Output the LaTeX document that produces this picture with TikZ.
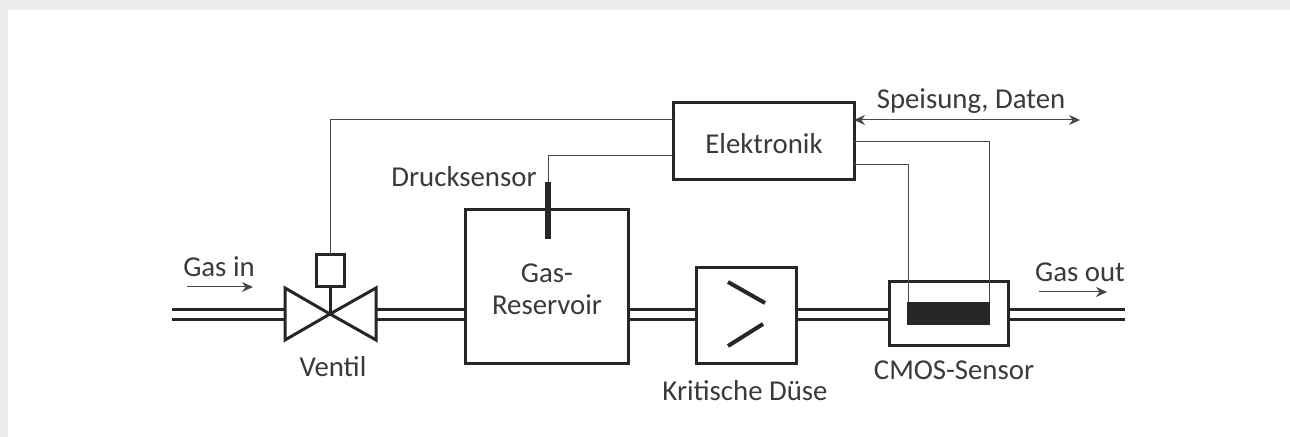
\documentclass[tikz,border=0pt]{standalone}
\usepackage{fontspec}
\setmainfont{Carlito}
\usetikzlibrary{positioning, arrows.meta, calc}
\definecolor{frame}{HTML}{EBEBED}
\definecolor{ink}{HTML}{262626}
\definecolor{label}{HTML}{3A3A3A}
\begin{document}
\begin{tikzpicture}[
      x=0.5pt, y=-0.5pt,
      box/.style={rectangle, draw=ink, fill=white, line width=1.5pt, inner sep=0pt, outer sep=0pt},
      sensorbar/.style={rectangle, fill=ink, inner sep=0pt, outer sep=0pt},
      txt/.style={font=\fontsize{14.4}{17}\selectfont, text=label, align=center, inner sep=0pt},
      pipe/.style={draw=ink, line width=1.5pt},
      wire/.style={draw=ink!85, line width=0.5pt},
      flow/.style={-{Stealth[length=5.5pt, width=5pt]}, draw=ink!85, line width=0.5pt}]

    % page
    \fill[frame] (0,0) rectangle (1290,437);
    \fill[white] (8,10) rectangle (1290,437);
    \useasboundingbox (0,0) rectangle (1290,437);

    % main line
    \coordinate (valve) at (330,314);
    \coordinate (inlet) at (172,314);
    \coordinate (outlet) at (1125,314);
    \coordinate (valveL) at (285,314);
    \coordinate (valveR) at (376,314);
    \node[box, minimum width=81.5pt, minimum height=77pt, anchor=west] (reservoir) at (465,287) {};
    \node[box, minimum width=50pt, minimum height=48pt, anchor=west] (duese) at (696,316) {};
    \node[box, minimum width=59.5pt, minimum height=32pt, anchor=west] (cmos) at (889,314) {};

    \foreach \y in {310,320} {
      \draw[pipe] (inlet |- 0,\y) -- (valveL |- 0,\y);
      \draw[pipe] (valveR |- 0,\y) -- (reservoir.west |- 0,\y);
      \draw[pipe] (reservoir.east |- 0,\y) -- (duese.west |- 0,\y);
      \draw[pipe] (duese.east |- 0,\y) -- (cmos.west |- 0,\y);
      \draw[pipe] (cmos.east |- 0,\y) -- (outlet |- 0,\y);
    }

    % valve
    \node[box, minimum width=14pt, minimum height=16pt] (actuator) at (330,271) {};
    \draw[pipe, line join=miter] (valve) -- (285,288) -- (285,340) -- (valve) -- (376,288) -- (376,340) -- cycle;
    \draw[pipe] (actuator.south) -- (valve);

    % nozzle
    \draw[pipe, line width=2pt] (728,282) -- (765,303);
    \draw[pipe, line width=2pt] (728,346) -- (763,324);

    % sensors and electronics
    \node[sensorbar, minimum width=41.5pt, minimum height=11.5pt, anchor=north west] (chip) at (907,302) {};
    \node[sensorbar, minimum width=3.2pt, minimum height=28.5pt, anchor=north] (druck) at (548,182) {};
    \node[box, minimum width=90.5pt, minimum height=38.5pt, anchor=north west] (elektronik) at (673,103) {};

    \coordinate (elekA) at (673,120);
    \coordinate (elekB) at (673,156);
    \coordinate (elekC) at (854,142);
    \coordinate (elekD) at (854,165);
    \coordinate (elekE) at (854,120);
    \coordinate (busEnd) at (1080,120);
    \coordinate (chipA) at (908,302);
    \coordinate (chipB) at (989,302);

    \draw[wire] (actuator.north) |- (elekA);
    \draw[wire] (druck.north) |- (elekB);
    \draw[wire] (elekC) -| (chipB);
    \draw[wire] (elekD) -| (chipA);
    \draw[flow, {Stealth[length=5.5pt, width=5pt]}-{Stealth[length=5.5pt, width=5pt]}] (elekE) -- (busEnd);

    % flow direction
    \coordinate (inA) at (187,287);
    \coordinate (inB) at (253,287);
    \coordinate (outA) at (1039,292);
    \coordinate (outB) at (1107,292);
    \draw[flow] (inA) -- (inB);
    \draw[flow] (outA) -- (outB);

    % labels
    \node[txt] (lgasin) at (219,267) {Gas in};
    \node[txt] (lventil) at (333,367) {Ventil};
    \node[txt] (ldruck) at (464,177) {Drucksensor};
    \node[txt] (lres) at (547,289) {Gas-\\[-1pt]Reservoir};
    \node[txt] (lduese) at (745,391) {Kritische Düse};
    \node[txt] (lcmos) at (954,370) {CMOS-Sensor};
    \node[txt] (lgasout) at (1080,272) {Gas out};
    \node[txt] (lspeis) at (971,101) {Speisung, Daten};
    \node[txt] (lelek) at (764,144) {Elektronik};
  \end{tikzpicture}
\end{document}
